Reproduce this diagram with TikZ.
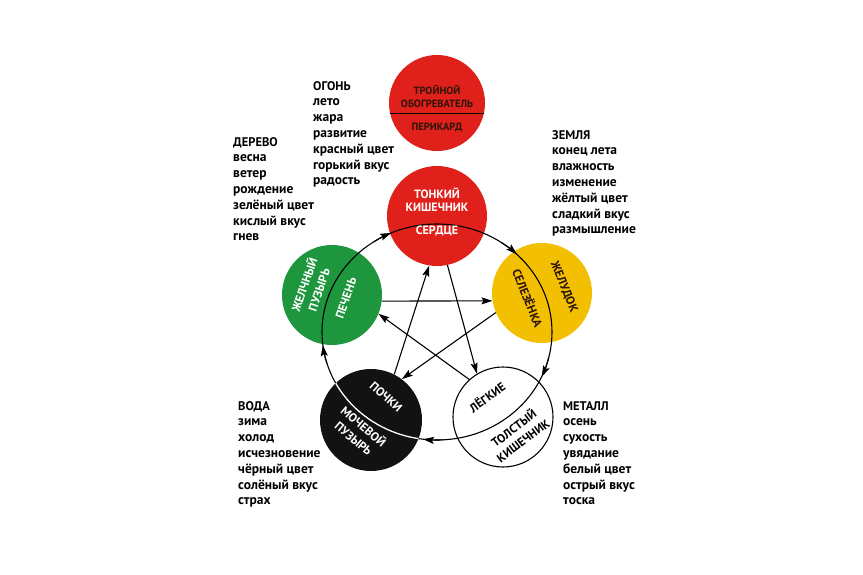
\documentclass[tikz,border=0pt]{standalone}
\usepackage{fontspec}
\setmainfont{PT Sans}
\usetikzlibrary{arrows.meta}
\definecolor{cred}{RGB}{224,32,26}
\definecolor{cgreen}{RGB}{30,150,62}
\definecolor{cyellow}{RGB}{242,192,0}
\definecolor{cblack}{RGB}{18,18,18}
\definecolor{cdark}{RGB}{45,20,10}
\begin{document}
\begin{tikzpicture}[x=1pt,y=1pt,
  disc/.style={circle,inner sep=0pt},
  ln/.style={line width=1.1pt, draw=black},
  arr/.style={ln,-{Stealth[length=11pt,width=7pt,inset=2pt]}},
  ctext/.style={font=\bfseries\fontsize{12}{15.5}\selectfont, align=center, inner sep=0pt},
  ttext/.style={font=\bfseries\fontsize{10.5}{13}\selectfont, align=center, inner sep=0pt, text=cdark},
  block/.style={font=\bfseries\fontsize{13.5}{15.8}\selectfont, align=left, inner sep=0pt, anchor=north west}]

\useasboundingbox (0,0) rectangle (863,-575);
\fill[white] (0,0) rectangle (863,-575);

% discs
\node[disc, fill=cred, minimum size=96pt] (tw) at (437,-103) {};
\node[disc, fill=cred, minimum size=100pt] (heart) at (437,-216) {};
\node[disc, fill=cgreen, minimum size=100pt] (liver) at (332,-295) {};
\node[disc, fill=cyellow, minimum size=100pt] (spleen) at (542,-293) {};
\node[disc, fill=cblack, minimum size=102pt] (kidney) at (371,-420) {};
\node[disc, draw=black, line width=1.1pt, fill=white, minimum size=100pt] (lung) at (503,-417) {};

% divider of the top disc
\draw[ln] (tw.193) -- (tw.-13);

% generating cycle
\coordinate (E) at (437,-332);
\draw[ln] (E) ellipse [x radius=115, y radius=108];
\begin{scope}
  \clip (kidney.center) circle [radius=51];
  \draw[line width=1.3pt, white] (E) ellipse [x radius=115, y radius=108];
\end{scope}
\draw[arr] (E) ++(123:115 and 108) arc[start angle=123, end angle=113.5, x radius=115, y radius=108];
\draw[arr] (E) ++(56:115 and 108) arc[start angle=56, end angle=46, x radius=115, y radius=108];
\draw[arr] (E) ++(-14:115 and 108) arc[start angle=-14, end angle=-24.5, x radius=115, y radius=108];
\draw[arr] (E) ++(-87:115 and 108) arc[start angle=-87, end angle=-97, x radius=115, y radius=108];
\draw[arr] (E) ++(197:115 and 108) arc[start angle=197, end angle=187, x radius=115, y radius=108];

% controlling cycle
\draw[arr] (liver.-7) -- (spleen.189);
\draw[arr] (spleen.203) -- (kidney.53);
\draw[arr] (kidney.63) -- (heart.261);
\draw[arr] (heart.282) -- (lung.121);
\draw[arr] (lung.132) -- (liver.338);

% texts in discs
\node[ttext] (twa) at (437,-96) {ТРОЙНОЙ\\ОБОГРЕВАТЕЛЬ};
\node[ttext] (twb) at (437,-127) {ПЕРИКАРД};
\node[ctext, text=white, font=\bfseries\fontsize{12}{13}\selectfont] (ha) at (437,-199.5) {ТОНКИЙ\\КИШЕЧНИК};
\node[ctext, text=white] (hb) at (437,-231) {СЕРДЦЕ};
\node[ctext, text=white, rotate=71] (la) at (311,-287) {ЖЕЛЧНЫЙ\\ПУЗЫРЬ};
\node[ctext, text=white, rotate=71] (lb) at (346,-298) {ПЕЧЕНЬ};
\node[ctext, text=cdark, rotate=-68] (sa) at (528,-298) {СЕЛЕЗЁНКА};
\node[ctext, text=cdark, rotate=-68] (sb) at (564,-287) {ЖЕЛУДОК};
\node[ctext, text=white, rotate=-41] (ka) at (386,-397) {ПОЧКИ};
\node[ctext, text=white, rotate=-40] (kb) at (359,-432) {МОЧЕВОЙ\\ПУЗЫРЬ};
\node[ctext, text=black, rotate=36] (lua) at (487,-397) {ЛЁГКИЕ};
\node[ctext, text=black, rotate=37] (lub) at (518,-434) {ТОЛСТЫЙ\\КИШЕЧНИК};

% element blocks
\node[block] (fire) at (313,-81) {{\fontsize{12.5}{15.8}\selectfont ОГОНЬ}\\лето\\жара\\развитие\\красный цвет\\горький вкус\\радость};
\node[block] (wood) at (233,-137) {{\fontsize{12.5}{15.8}\selectfont ДЕРЕВО}\\весна\\ветер\\рождение\\зелёный цвет\\кислый вкус\\гнев};
\node[block] (earth) at (552,-130) {{\fontsize{12.5}{15.8}\selectfont ЗЕМЛЯ}\\конец лета\\влажность\\изменение\\жёлтый цвет\\сладкий вкус\\размышление};
\node[block] (water) at (238,-401) {{\fontsize{12.5}{15.8}\selectfont ВОДА}\\зима\\холод\\исчезновение\\чёрный цвет\\солёный вкус\\страх};
\node[block] (metal) at (563,-401) {{\fontsize{12.5}{15.8}\selectfont МЕТАЛЛ}\\осень\\сухость\\увядание\\белый цвет\\острый вкус\\тоска};
\end{tikzpicture}
\end{document}
